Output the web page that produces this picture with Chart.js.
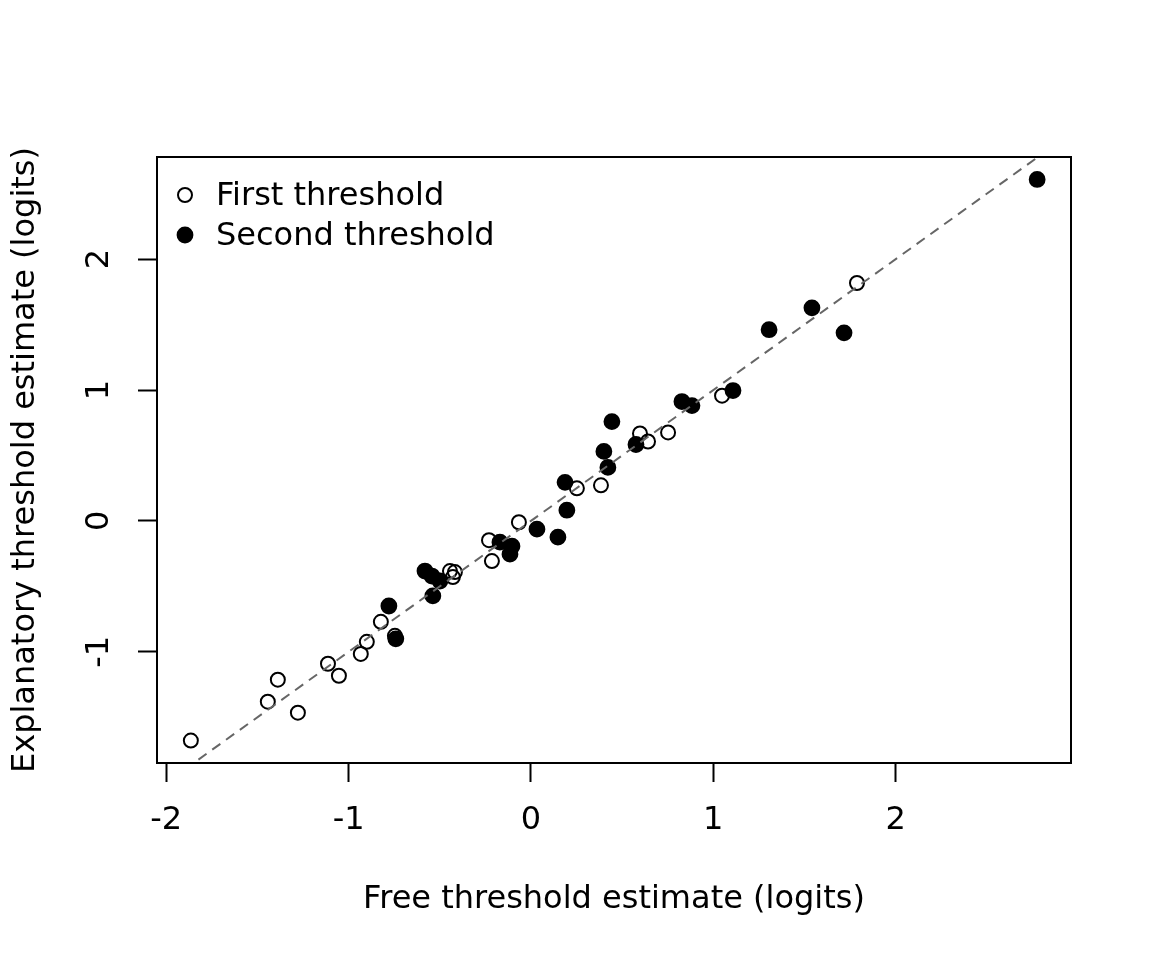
<!DOCTYPE html>
<html>
<head>
<meta charset="utf-8">
<script src="https://cdn.jsdelivr.net/npm/chart.js@4.4.1/dist/chart.umd.min.js"></script>
<style>html,body{margin:0;padding:0;background:#fff}canvas{display:block}</style>
</head>
<body>
<canvas id="c" width="1152" height="960"></canvas>
<script>
// First threshold (open circles)
const FIRST_X = [-1.865,-1.443,-1.388,-1.278,-1.113,-1.053,-0.933,-0.900,-0.823,-0.746,-0.444,-0.417,-0.428,-0.230,-0.214,-0.066,0.252,0.384,0.598,0.642,0.752,1.048,1.788];
const FIRST_Y = [-1.678,-1.381,-1.213,-1.465,-1.091,-1.183,-1.016,-0.924,-0.771,-0.878,-0.383,-0.391,-0.429,-0.147,-0.307,-0.010,0.249,0.272,0.668,0.607,0.676,0.957,1.818];
// Second threshold (filled circles)
const SECOND_X = [-0.779,-0.741,-0.581,-0.543,-0.499,-0.538,-0.170,-0.104,-0.115,0.033,0.148,0.197,0.187,0.400,0.422,0.444,0.576,0.828,0.883,1.108,1.306,1.541,1.717,2.776];
const SECOND_Y = [-0.650,-0.901,-0.383,-0.421,-0.459,-0.573,-0.162,-0.193,-0.254,-0.063,-0.124,0.082,0.295,0.531,0.409,0.759,0.584,0.912,0.881,0.996,1.461,1.628,1.437,2.609];

const SERIES_LABELS = ["First threshold", "Second threshold"];
const X_TICKS = [-2, -1, 0, 1, 2];
const Y_TICKS = [-1, 0, 1, 2];
const X_TITLE = "Free threshold estimate (logits)";
const Y_TITLE = "Explanatory threshold estimate (logits)";
const ABLINE = { a: 0, b: 1 };

// R style axis limits: data range widened by 4% each side
function lim(v){const lo=Math.min(...v),hi=Math.max(...v),d=(hi-lo)*0.04;return [lo-d,hi+d];}
const [xMin, xMax] = lim([...FIRST_X, ...SECOND_X]);
const [yMin, yMax] = lim([...FIRST_Y, ...SECOND_Y]);
const pts = (xs, ys) => xs.map((x, i) => ({ x, y: ys[i] }));

Chart.defaults.font.family = "'DejaVu Sans', sans-serif";
Chart.defaults.font.size = 32;
Chart.defaults.color = "#000";

const box = { id: "box", afterDraw(c) {
  const { ctx, chartArea: a } = c;
  ctx.save(); ctx.lineWidth = 2; ctx.strokeStyle = "#000";
  ctx.strokeRect(a.left, a.top, a.right - a.left, a.bottom - a.top);
  ctx.restore();
}};

// legend drawn inside the plot, top left, like R's legend("topleft")
const rLegend = { id: "rLegend", afterDraw(c) {
  const { ctx, chartArea: a } = c;
  const items = [c.data.datasets[2], c.data.datasets[1]];
  ctx.save(); ctx.font = "32px 'DejaVu Sans', sans-serif"; ctx.textBaseline = "middle";
  items.forEach((d, i) => {
    const cx = a.left + 28, cy = a.top + 38 + i * 40;
    ctx.beginPath(); ctx.arc(cx, cy, d.pointRadius, 0, Math.PI * 2);
    ctx.fillStyle = d.backgroundColor; ctx.fill();
    ctx.lineWidth = d.borderWidth; ctx.strokeStyle = d.borderColor; ctx.stroke();
    ctx.fillStyle = "#000"; ctx.fillText(d.label, a.left + 59, cy + 2);
  });
  ctx.restore();
}};

new Chart(document.getElementById("c"), {
  type: "scatter",
  data: { datasets: [
    { label: "y = x", data: [{ x: xMin, y: ABLINE.a + ABLINE.b * xMin }, { x: xMax, y: ABLINE.a + ABLINE.b * xMax }],
      showLine: true, pointRadius: 0, borderColor: "#666", borderWidth: 2, borderDash: [10, 7] },
    { label: SERIES_LABELS[1], data: pts(SECOND_X, SECOND_Y), pointRadius: 7.4, borderWidth: 2, borderColor: "#000", backgroundColor: "#000" },
    { label: SERIES_LABELS[0], data: pts(FIRST_X, FIRST_Y), pointRadius: 7, borderWidth: 2, borderColor: "#000", backgroundColor: "rgba(0,0,0,0)" },
  ]},
  options: {
    responsive: false, animation: false, devicePixelRatio: 1,
    layout: { padding: { top: 157, right: 81, left: 0, bottom: 0 } },
    plugins: { legend: { display: false }, tooltip: { enabled: false } },
    scales: {
      x: { type: "linear", min: xMin, max: xMax,
        afterBuildTicks: ax => { ax.ticks = X_TICKS.map(v => ({ value: v })); },
        afterFit: s => { s.height = 197; },
        grid: { drawOnChartArea: false, tickLength: 19, tickWidth: 2, tickColor: "#000" },
        border: { color: "#000", width: 2 },
        ticks: { padding: 19, color: "#000", maxRotation: 0, autoSkip: false, callback: v => String(v) },
        title: { display: true, text: X_TITLE, color: "#000", padding: { top: 0, bottom: 41 } } },
      y: { type: "linear", min: yMin, max: yMax,
        afterBuildTicks: ax => { ax.ticks = Y_TICKS.map(v => ({ value: v })); },
        afterFit: s => { s.width = 157; },
        grid: { drawOnChartArea: false, tickLength: 19, tickWidth: 2, tickColor: "#000" },
        border: { color: "#000", width: 2 },
        ticks: { padding: 22, color: "#000", minRotation: 90, maxRotation: 90, crossAlign: "center", autoSkip: false, callback: v => String(v) },
        title: { display: true, text: Y_TITLE, color: "#000", padding: { top: 6, bottom: 0 } } }
    }
  },
  plugins: [box, rLegend]
});
</script>
</body>
</html>
